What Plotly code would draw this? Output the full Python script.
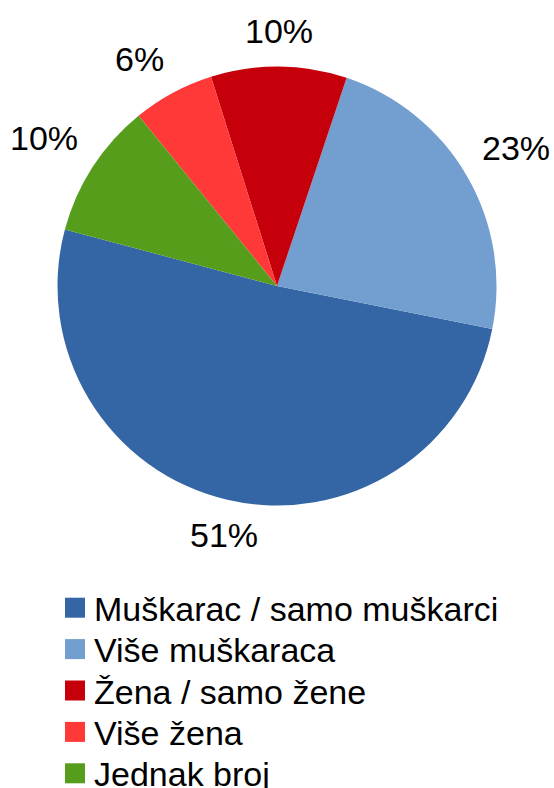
import math
import plotly.graph_objects as go

labels = ["Muškarac / samo muškarci", "Više muškaraca", "Žena / samo žene", "Više žena", "Jednak broj"]
values = [51, 23, 10, 6, 10]
colors = ["#3465a4", "#729fcf", "#c5000b", "#ff3838", "#579d1c"]

W, H = 554, 788
cx, cy, r = 277, 286, 219.5
rotation = 101.3          # degrees clockwise from 12 o'clock
label_size = 34
legend_size = 34

fig = go.Figure()
fig.add_trace(go.Pie(
    labels=labels,
    values=values,
    marker=dict(colors=colors, line=dict(width=0)),
    sort=False,
    direction="counterclockwise",
    rotation=rotation,
    textinfo="none",
    showlegend=False,
    hoverinfo="label+percent",
    domain=dict(x=[(cx - r) / W, (cx + r) / W], y=[1 - (cy + r) / H, 1 - (cy - r) / H]),
))

annotations = []

# percentage labels placed outside each slice along its mid-angle (derived from values)
total = sum(values)
angles = []
# plotly counterclockwise: first slice spans [rotation, rotation + share]; following slices go ccw from rotation
first_share = values[0] / total * 360
angles.append(rotation + first_share / 2)
a = rotation
for v in values[1:]:
    share = v / total * 360
    angles.append(a - share / 2)
    a -= share

# anchor alignment per 45-degree sector (0 = top, clockwise)
sector_anchor = [("center", "bottom"), ("left", "bottom"), ("left", "middle"), ("left", "top"),
                 ("center", "top"), ("right", "top"), ("right", "middle"), ("right", "bottom")]
R = r + 16
for v, ang in zip(values, angles):
    txt = f"{round(v / total * 100)}%"
    th = math.radians(ang)
    px = cx + R * math.sin(th)
    py = cy - R * math.cos(th)
    sector = int(round((ang % 360) / 45)) % 8
    xa, ya = sector_anchor[sector]
    annotations.append(dict(text=txt, xref="paper", yref="paper",
                            x=px / W, y=1 - py / H, xanchor=xa, yanchor=ya,
                            showarrow=False, borderpad=0,
                            font=dict(family="Liberation Sans", size=label_size, color="#000000")))

# legend built from labels/colors
leg_top = 607.7
step = 41.4
sq = 20
shapes = []
for i, (lab, col) in enumerate(zip(labels, colors)):
    yc = leg_top + i * step
    shapes.append(dict(type="rect", xref="paper", yref="paper",
                       x0=65 / W, x1=(65 + sq) / W,
                       y0=1 - (yc + sq / 2) / H, y1=1 - (yc - sq / 2) / H,
                       fillcolor=col, line=dict(width=0)))
    annotations.append(dict(text=lab, xref="paper", yref="paper",
                            x=93 / W, y=1 - (yc + 1) / H, xanchor="left", yanchor="middle",
                            showarrow=False, borderpad=0,
                            font=dict(family="Liberation Sans", size=legend_size, color="#000000")))

fig.update_layout(
    width=W, height=H,
    margin=dict(l=0, r=0, t=0, b=0),
    paper_bgcolor="white",
    plot_bgcolor="white",
    shapes=shapes,
    annotations=annotations,
)

fig.write_html("out.html", config={"displayModeBar": False},
               post_script="document.body.style.margin='0';")
